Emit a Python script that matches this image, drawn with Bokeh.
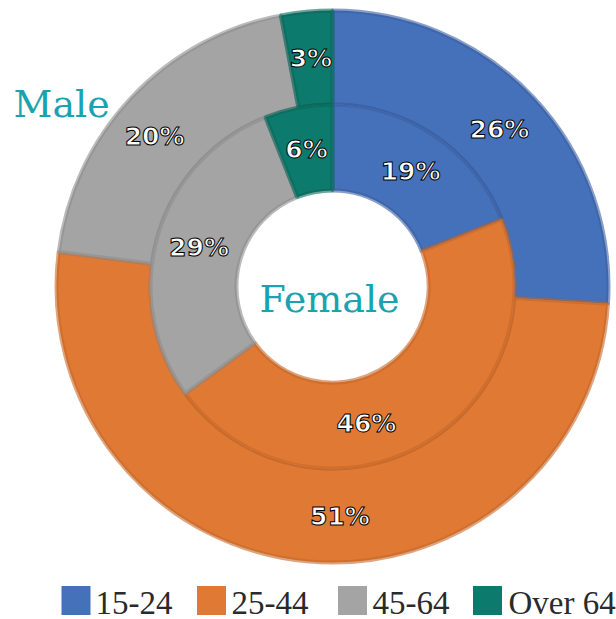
import math
from bokeh.plotting import figure
from bokeh.models import Range1d, ColumnDataSource
from bokeh.core.properties import value
from bokeh.embed import file_html
from bokeh.resources import INLINE

# ---- data ----
categories = ["15-24", "25-44", "45-64", "Over 64"]
male = [26, 51, 20, 3]      # outer ring
female = [19, 46, 29, 6]    # inner ring
colors = ["#4570BA", "#E07934", "#A4A4A4", "#0C7A6C"]
edge_colors = ["#3A5FA2", "#C4672A", "#8E8E8E", "#0A6659"]

# ---- layout (pixel-like data units; y up) ----
W, H = 616, 619
cx, cy = 332, H - 286
r_hole, r_mid, r_out = 96, 182, 276
# small manual nudges of label positions (dx, dy in px, y up)
male_nudge = [(0, 0), (29, -2), (-11, -7), (0, 0)]
female_nudge = [(0, 0), (-33, -15), (0, 0), (0, 0)]

p = figure(width=W, height=H, x_range=Range1d(0, W), y_range=Range1d(0, H),
           output_backend="svg", toolbar_location=None, min_border=0,
           x_axis_location=None, y_axis_location=None, outline_line_color=None)
p.xgrid.visible = False
p.ygrid.visible = False
p.background_fill_color = "white"
p.border_fill_color = "white"


def ring(vals, r0, r1, nudges):
    starts, ends, lx, ly, labels = [], [], [], [], []
    cum = 0
    total = sum(vals)
    for v, (dx, dy) in zip(vals, nudges):
        a0 = math.pi / 2 - 2 * math.pi * cum / total
        a1 = math.pi / 2 - 2 * math.pi * (cum + v) / total
        starts.append(a0)
        ends.append(a1)
        am = (a0 + a1) / 2
        rm = (r0 + r1) / 2
        lx.append(cx + rm * math.cos(am) + dx)
        ly.append(cy + rm * math.sin(am) + dy)
        labels.append(f"{v}%")
        cum += v
    src = ColumnDataSource(dict(start=starts, end=ends, color=colors, edge=edge_colors,
                                cat=categories))
    p.annular_wedge(x=cx, y=cy, inner_radius=r0, outer_radius=r1,
                    start_angle="start", end_angle="end", direction="clock",
                    fill_color="color", line_color="edge", line_width=4, line_alpha=0.6,
                    source=src)
    return lx, ly, labels


m = ring(male, r_mid, r_out, male_nudge)
f = ring(female, r_hole, r_mid, female_nudge)
lsrc = ColumnDataSource(dict(x=m[0] + f[0], y=m[1] + f[1], t=m[2] + f[2]))
p.text(x="x", y="y", text="t", source=lsrc, text_align="center",
       text_baseline="middle", text_color="white", text_font=value("DejaVu Sans"),
       text_font_size="25px", text_font_style="bold",
       text_outline_color="black")

# ring titles
p.text(x=[13], y=[H - 103], text=["Male"], text_align="left",
       text_baseline="alphabetic", text_color="#19A3B1",
       text_font=value("DejaVu Serif"), text_font_size="38px")
p.text(x=[329], y=[H - 298], text=["Female"], text_align="center",
       text_baseline="alphabetic", text_color="#19A3B1",
       text_font=value("DejaVu Serif"), text_font_size="38px")

# legend
leg_sq_x = [75.5, 211, 352, 487]
leg_tx_x = [95, 231, 372, 508]
leg_y = H - 600
lsq = ColumnDataSource(dict(x=leg_sq_x, y=[leg_y] * 4, color=colors))
p.rect(x="x", y="y", width=29, height=29, fill_color="color", line_color=None, source=lsq)
ltx = ColumnDataSource(dict(x=leg_tx_x, y=[H - 602] * 4, t=categories))
p.text(x="x", y="y", text="t", source=ltx, text_align="left", text_baseline="middle",
       text_color="#2a2a2a", text_font=value("Liberation Serif"), text_font_size="33px")

open("out.html", "w").write(file_html(p, INLINE))
